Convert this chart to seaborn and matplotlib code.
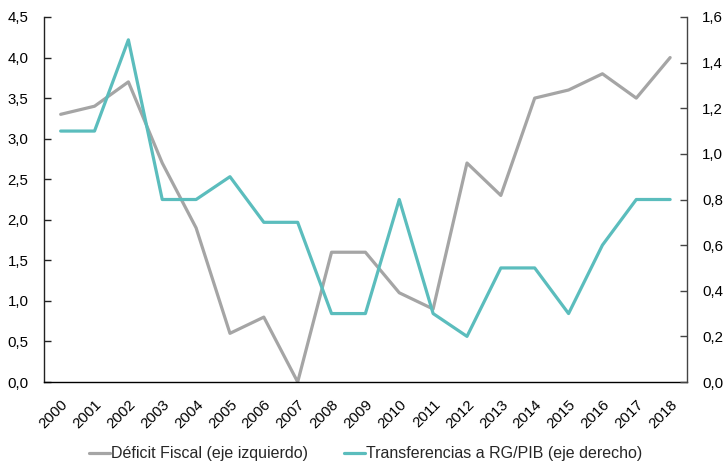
import matplotlib
matplotlib.use("Agg")
import matplotlib.pyplot as plt
import matplotlib.ticker as mticker
import matplotlib.transforms as mtransforms
from matplotlib.lines import Line2D
import seaborn as sns
import pandas as pd

years = [str(y) for y in range(2000, 2019)]
deficit_fiscal = [3.3, 3.4, 3.7, 2.7, 1.9, 0.6, 0.8, 0.0, 1.6, 1.6,
                  1.1, 0.9, 2.7, 2.3, 3.5, 3.6, 3.8, 3.5, 4.0]
transferencias = [1.1, 1.1, 1.5, 0.8, 0.8, 0.9, 0.7, 0.7, 0.3, 0.3,
                  0.8, 0.3, 0.2, 0.5, 0.5, 0.3, 0.6, 0.8, 0.8]
label_deficit = "Déficit Fiscal (eje izquierdo)"
label_transf = "Transferencias a RG/PIB (eje derecho)"

GRAY = "#A5A5A5"
TEAL = "#5BBDBD"

sns.set_theme(style="white")
plt.rcParams["font.family"] = ["Liberation Sans", "DejaVu Sans"]

df = pd.DataFrame({"pos": range(len(years)), "deficit": deficit_fiscal,
                   "transf": transferencias})

fig, ax = plt.subplots(figsize=(7.24, 4.67), dpi=100)
fig.subplots_adjust(left=0.0604, right=0.949, top=0.9636, bottom=0.182)
ax2 = ax.twinx()

sns.lineplot(data=df, x="pos", y="deficit", ax=ax, color=GRAY, lw=2.3)
sns.lineplot(data=df, x="pos", y="transf", ax=ax2, color=TEAL, lw=2.3)

ax.set_xlim(-0.5, len(years) - 0.5)
ax.set_ylim(0, 4.5)
ax2.set_ylim(0, 1.6)
ax.set_yticks([i * 0.5 for i in range(10)])
ax2.set_yticks([i * 0.2 for i in range(9)])

comma = lambda d: mticker.FuncFormatter(lambda v, p: f"{v:.{d}f}".replace(".", ","))
ax.yaxis.set_major_formatter(comma(1))
ax2.yaxis.set_major_formatter(comma(1))

ax.set_xticks(range(len(years)))
ax.set_xticklabels(years, rotation=45, ha="right", va="top",
                   rotation_mode="anchor", fontsize=10.8)
shift = mtransforms.ScaledTranslation(2 / 100, 0, fig.dpi_scale_trans)
for lbl in ax.get_xticklabels():
    lbl.set_transform(lbl.get_transform() + shift)
ax.set_xlabel("")
ax.set_ylabel("")
ax2.set_ylabel("")

for a in (ax, ax2):
    for s in a.spines.values():
        s.set_visible(False)
    a.grid(False)

ax.spines["left"].set_visible(True)
ax.spines["bottom"].set_visible(True)
ax2.spines["right"].set_visible(True)
ax.spines["left"].set_color("#222222")
ax.spines["bottom"].set_color("#000000")
ax2.spines["right"].set_color("#444444")
for s in (ax.spines["left"], ax.spines["bottom"], ax2.spines["right"]):
    s.set_linewidth(1.0)

ax.tick_params(axis="y", direction="in", length=5, width=1, color="#222222",
               labelsize=10.8, pad=11, left=True, labelcolor="#000000")
ax2.tick_params(axis="y", direction="in", length=5, width=1, color="#444444",
                labelsize=10.8, pad=11, right=True, labelcolor="#000000")
ax.tick_params(axis="x", length=0, pad=11, labelcolor="#000000")

handles = [Line2D([], [], color=GRAY, lw=2.3), Line2D([], [], color=TEAL, lw=2.3)]
fig.legend(handles, [label_deficit, label_transf], loc="center",
           bbox_to_anchor=(0.505, 0.028), ncol=2, frameon=False, fontsize=11.5,
           handlelength=1.35, handletextpad=0.08, columnspacing=2.2,
           borderaxespad=0, borderpad=0)

fig.savefig("out.png", dpi=100)
